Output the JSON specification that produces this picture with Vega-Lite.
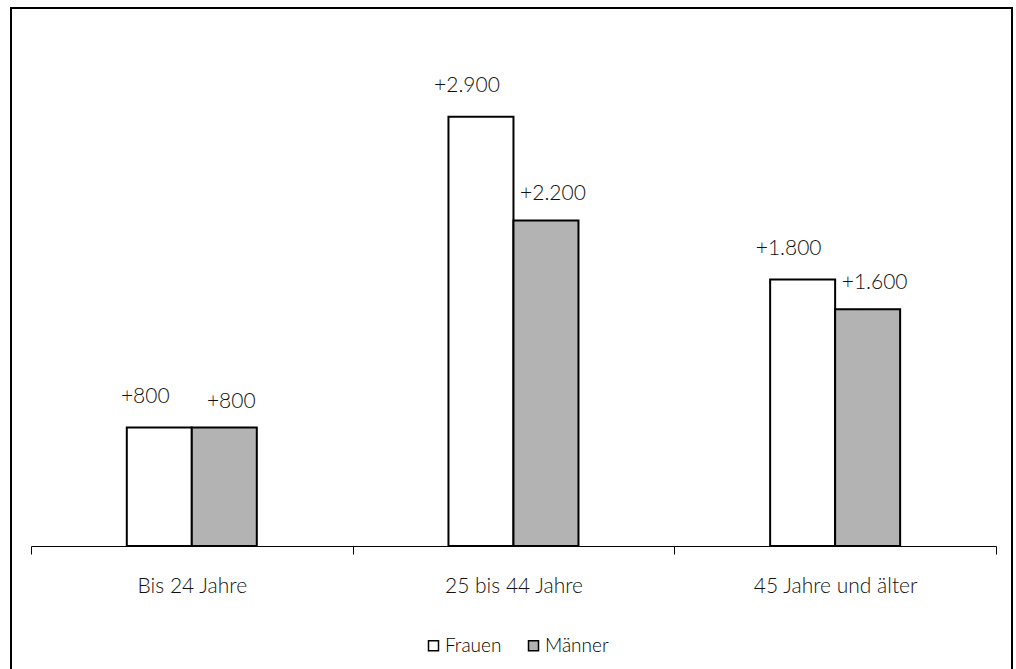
{
  "$schema": "https://vega.github.io/schema/vega-lite/v6.json",
  "width": 1001,
  "height": 666,
  "autosize": {"type": "none"},
  "padding": {"left": 11, "top": 8, "right": 4, "bottom": -5},
  "config": {
    "locale": {"number": {"decimal": ",", "thousands": ".", "grouping": [3], "currency": ["", " €"]}},
    "view": {"stroke": "#000000", "strokeWidth": 2},
    "font": "Lato",
    "text": {"color": "#111111", "fontWeight": 300}
  },
  "data": {
    "values": [
      {"Alter": "Bis 24 Jahre", "Geschlecht": "Frauen", "Zuwachs": 800},
      {"Alter": "Bis 24 Jahre", "Geschlecht": "Männer", "Zuwachs": 800},
      {"Alter": "25 bis 44 Jahre", "Geschlecht": "Frauen", "Zuwachs": 2900},
      {"Alter": "25 bis 44 Jahre", "Geschlecht": "Männer", "Zuwachs": 2200},
      {"Alter": "45 Jahre und älter", "Geschlecht": "Frauen", "Zuwachs": 1800},
      {"Alter": "45 Jahre und älter", "Geschlecht": "Männer", "Zuwachs": 1600}
    ]
  },
  "encoding": {
    "x": {
      "field": "Alter",
      "type": "nominal",
      "sort": ["Bis 24 Jahre", "25 bis 44 Jahre", "45 Jahre und älter"],
      "scale": {"range": [20, 985], "paddingInner": 0, "paddingOuter": 0},
      "axis": {
        "title": null,
        "offset": -128,
        "labelAngle": 0,
        "labelFont": "Lato",
        "labelFontWeight": 300,
        "labelFontSize": 21,
        "labelColor": "#111111",
        "labelPadding": 21,
        "tickBand": "extent",
        "tickSize": 8,
        "tickColor": "#000000",
        "domainColor": "#000000",
        "domainWidth": 1,
        "tickWidth": 1,
        "grid": false
      }
    },
    "xOffset": {
      "field": "Geschlecht",
      "type": "nominal",
      "sort": ["Frauen", "Männer"],
      "scale": {"range": [95.8, 225.8], "paddingInner": 0, "paddingOuter": 0}
    },
    "y": {
      "field": "Zuwachs",
      "type": "quantitative",
      "scale": {"domain": [0, 3500], "range": [538, 20]},
      "axis": null
    }
  },
  "layer": [
    {
      "mark": {"type": "bar", "stroke": "#000000", "strokeWidth": 2},
      "encoding": {
        "fill": {
          "field": "Geschlecht",
          "type": "nominal",
          "scale": {"domain": ["Frauen", "Männer"], "range": ["#ffffff", "#b3b3b3"]},
          "legend": {
            "title": null,
            "orient": "none",
            "direction": "horizontal",
            "legendX": 413,
            "legendY": 628,
            "padding": 0,
            "symbolType": "square",
            "symbolSize": 100,
            "symbolStrokeColor": "#000000",
            "symbolStrokeWidth": 1.5,
            "labelFont": "Lato",
            "labelFontWeight": 300,
            "labelFontSize": 19,
            "labelColor": "#000000",
            "labelOffset": 2,
            "columnPadding": 22
          }
        }
      }
    },
    {
      "transform": [{"filter": "datum.Geschlecht === 'Frauen'"}],
      "mark": {"type": "text", "baseline": "alphabetic", "align": "center", "dx": -14, "dy": -25, "fontSize": 21},
      "encoding": {"text": {"field": "Zuwachs", "type": "quantitative", "format": "+,d"}}
    },
    {
      "transform": [{"filter": "datum.Geschlecht === 'Männer'"}],
      "mark": {"type": "text", "baseline": "alphabetic", "align": "center", "dx": 7, "dy": -20, "fontSize": 21},
      "encoding": {"text": {"field": "Zuwachs", "type": "quantitative", "format": "+,d"}}
    }
  ]
}
